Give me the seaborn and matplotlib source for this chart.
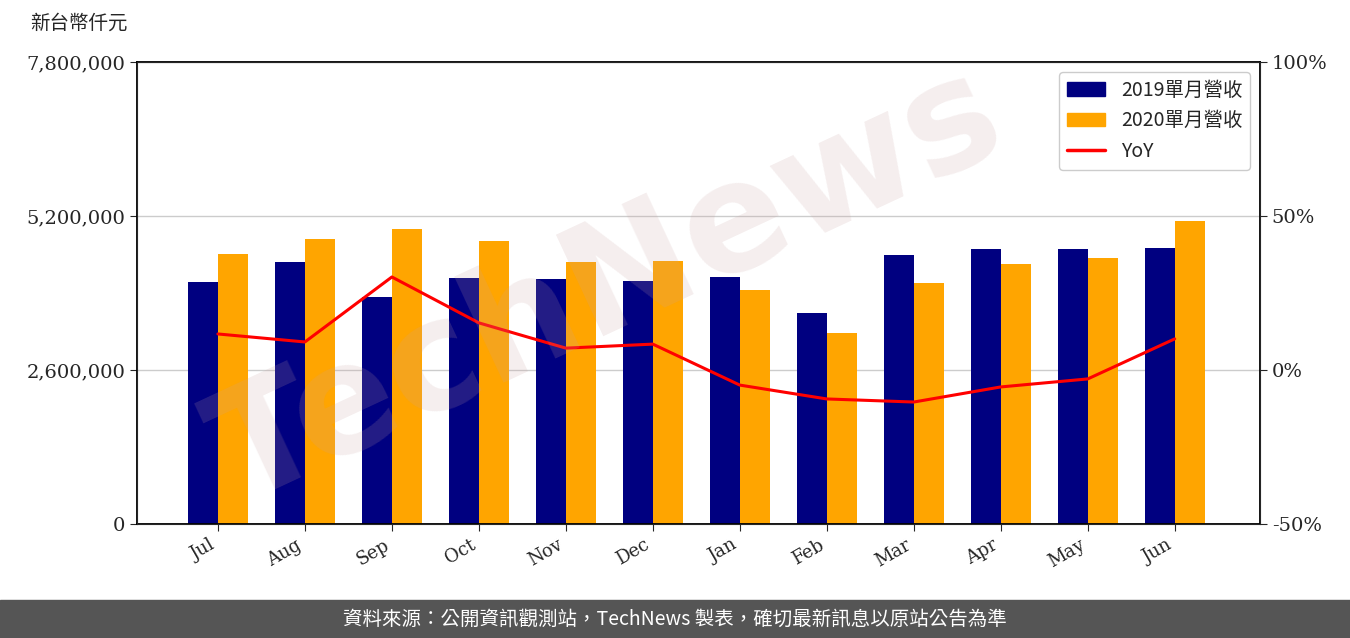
import numpy as np
import matplotlib
matplotlib.use('Agg')
import matplotlib.pyplot as plt
import seaborn as sb
import pandas as pd
from matplotlib.patches import Patch
from matplotlib.lines import Line2D

months = ['Jul', 'Aug', 'Sep', 'Oct', 'Nov', 'Dec', 'Jan', 'Feb', 'Mar', 'Apr', 'May', 'Jun']
rev2019 = [4086000, 4423000, 3833000, 4153000, 4136000, 4103000, 4170000, 3562000, 4542000, 4643000, 4643000, 4660000]
rev2020 = [4559000, 4812000, 4981000, 4778000, 4423000, 4440000, 3951000, 3225000, 4069000, 4390000, 4491000, 5116000]
yoy = [11.7, 9.1, 30.2, 15.3, 7.1, 8.4, -4.9, -9.4, -10.4, -5.5, -2.9, 10.1]

sb.set_style('white')
plt.rcParams['font.family'] = ['DejaVu Serif', 'Noto Sans CJK TC']
cjk = ['Noto Sans CJK TC', 'DejaVu Sans']

fig = plt.figure(figsize=(13.5, 6.38), dpi=100)
ax = fig.add_axes([0.1015, 0.1787, 0.8318, 0.7241])

df = pd.DataFrame({'month': months * 2,
                   'rev': rev2019 + rev2020,
                   'year': ['2019單月營收'] * 12 + ['2020單月營收'] * 12})
sb.barplot(data=df, x='month', y='rev', hue='year', palette=['#000080', '#FFA500'],
           width=0.69, saturation=1, linewidth=0, ax=ax, legend=False)
ax.set_xlim(-0.93, 11.98)
ax.set_ylim(0, 7800000)
ax.set_yticks([0, 2600000, 5200000, 7800000])
ax.set_yticklabels(['0', '2,600,000', '5,200,000', '7,800,000'], fontsize=14)
ax.set_xticks(range(12))
ax.set_xticklabels(months, rotation=30, ha='right', fontsize=13)
ax.set_xlabel('')
ax.set_ylabel('')
ax.grid(axis='y', color='#cccccc', linewidth=1)
ax.set_axisbelow(True)
ax.tick_params(axis='both', length=5, direction='out', bottom=True, left=True)
for s in ax.spines.values():
    s.set_color('black')
    s.set_linewidth(1.3)

ax2 = ax.twinx()
sb.lineplot(x=np.arange(12), y=yoy, color='red', linewidth=2.2, ax=ax2)
ax2.set_ylim(-50, 100)
ax2.set_yticks([-50, 0, 50, 100])
ax2.set_yticklabels(['-50%', '0%', '50%', '100%'], fontsize=14)
ax2.tick_params(axis='y', length=5, right=True)
ax2.set_xlim(-0.93, 11.98)

handles = [Patch(color='#000080'), Patch(color='#FFA500'), Line2D([], [], color='red', lw=2.5)]
ax2.legend(handles, ['2019單月營收', '2020單月營收', 'YoY'], loc='upper right',
           prop={'family': cjk, 'size': 14}, framealpha=1, edgecolor='#cccccc')

fig.text(0.022, 0.955, '新台幣仟元', family=cjk, fontsize=14)
fig.text(0.45, 0.55, 'TechNews', fontsize=110, fontweight='bold', family='DejaVu Sans',
         rotation=25, color='#c8a0a0', alpha=0.18, ha='center', va='center', zorder=0)

fig.patches.append(plt.Rectangle((0, 0), 1, 0.06, transform=fig.transFigure,
                                 color='#555555', zorder=0))
fig.text(0.5, 0.03, '資料來源：公開資訊觀測站，TechNews 製表，確切最新訊息以原站公告為準',
         family=cjk, fontsize=14, color='white', ha='center', va='center')

fig.savefig('out.png', dpi=100)
